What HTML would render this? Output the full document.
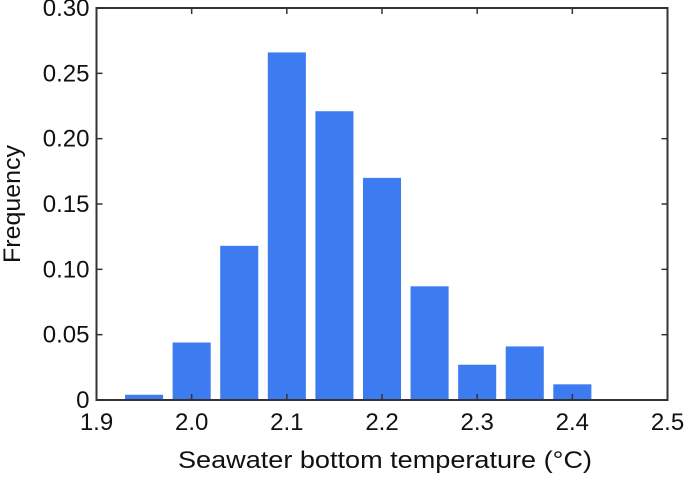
<!DOCTYPE html>
<html><head><meta charset="utf-8"><style>
body{margin:0;background:#fff;}
text{font-family:"Liberation Sans",Arial,sans-serif;fill:#111;}
</style></head><body>
<svg id="chart" width="685" height="473">
<g id="bars"></g>
<g id="axes"></g>
</svg>
<script>
const centers=[1.95,2.0,2.05,2.1,2.15,2.2,2.25,2.3,2.35,2.4];
const freqs=[0.004,0.044,0.118,0.266,0.221,0.170,0.087,0.027,0.041,0.012];
const xTicks=[1.9,2.0,2.1,2.2,2.3,2.4,2.5];
const xTickLabels=["1.9","2.0","2.1","2.2","2.3","2.4","2.5"];
const yTicks=[0,0.05,0.10,0.15,0.20,0.25,0.30];
const yTickLabels=["0","0.05","0.10","0.15","0.20","0.25","0.30"];
const L=96.5,R=667.5,T=8,B=400;
const xs=v=>L+(v-1.9)/(0.6)*(R-L);
const ys=v=>B-v/0.3*(B-T);
const NS="http://www.w3.org/2000/svg";
const bars=document.getElementById('bars'),axes=document.getElementById('axes');
function mk(tag,attrs,parent){const e=document.createElementNS(NS,tag);for(const k in attrs)e.setAttribute(k,attrs[k]);parent.appendChild(e);return e;}
const bw=xs(1.94)-xs(1.9);
centers.forEach((c,i)=>{
 const r=mk('rect',{x:xs(c)-bw/2,y:ys(freqs[i]),width:bw,height:B-ys(freqs[i]),fill:'#3c7cf0'},bars);
 
 
});
const box=mk('rect',{x:L,y:T,width:R-L,height:B-T,fill:'none',stroke:'#333','stroke-width':2},axes);


xTicks.forEach((v,i)=>{
 const x=xs(v);
 mk('line',{x1:x,x2:x,y1:B,y2:B-6,stroke:'#333','stroke-width':1.5},axes);
 mk('line',{x1:x,x2:x,y1:T,y2:T+6,stroke:'#333','stroke-width':1.5},axes);
 const t=mk('text',{x:x,y:B+30,'text-anchor':'middle','font-size':24},axes);
 t.textContent=xTickLabels[i];
 
 
});
yTicks.forEach((v,i)=>{
 const y=ys(v);
 mk('line',{x1:L,x2:L+6,y1:y,y2:y,stroke:'#333','stroke-width':1.5},axes);
 mk('line',{x1:R,x2:R-6,y1:y,y2:y,stroke:'#333','stroke-width':1.5},axes);
 const t=mk('text',{x:L-7,y:y+8,'text-anchor':'end','font-size':24},axes);
 t.textContent=yTickLabels[i];
 
 
});
const xt=mk('text',{x:385,y:468,'text-anchor':'middle','font-size':24,textLength:414,lengthAdjust:'spacingAndGlyphs'},axes);
xt.textContent='Seawater bottom temperature (°C)';


const yt=mk('text',{x:0,y:0,'text-anchor':'middle','font-size':24,textLength:118,lengthAdjust:'spacingAndGlyphs',transform:'translate(20,'+((T+B)/2)+') rotate(-90)'},axes);
yt.textContent='Frequency';


</script>
</body></html>
